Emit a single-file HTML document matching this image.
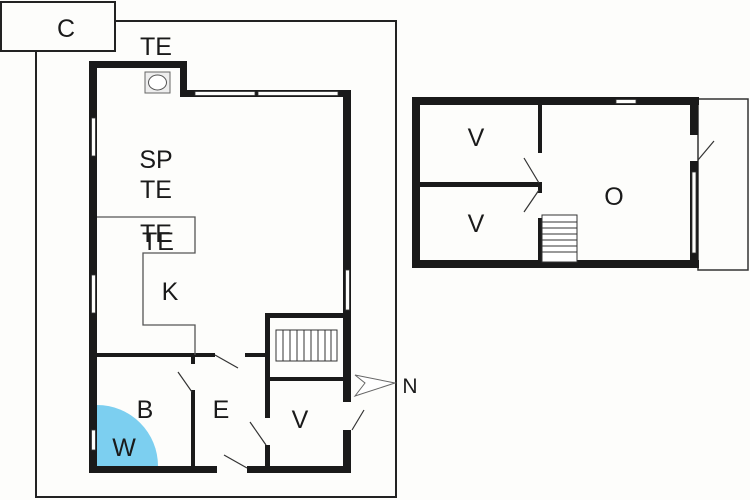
<!DOCTYPE html>
<html><head><style>
html,body{margin:0;padding:0;background:#fdfdfb;}
svg{display:block;}
text{font-family:"Liberation Sans",sans-serif;font-size:25px;fill:#1a1a1a;text-anchor:middle;}
</style></head><body>
<svg width="750" height="500" viewBox="0 0 750 500">
<rect width="750" height="500" fill="#fdfdfb"/>
<!-- plot -->
<polyline points="116,21 396,21 396,497 36,497 36,51" fill="none" stroke="#222" stroke-width="2"/>
<rect x="1" y="2" width="114" height="49" fill="#fdfdfb" stroke="#222" stroke-width="2"/>
<text x="66" y="37">C</text>
<text x="156" y="55">TE</text>
<!-- W quarter -->
<path d="M97,466 L97,405 A61,61 0 0 1 158,466 Z" fill="#7ccff0"/>
<!-- main walls -->
<g fill="#1a1a1a">
<rect x="89" y="61" width="98" height="7"/>
<rect x="89" y="61" width="8" height="412"/>
<rect x="180" y="61" width="7" height="36"/>
<rect x="180" y="90" width="171" height="7"/>
<rect x="343" y="90" width="8" height="383"/>
<rect x="89" y="466" width="128" height="7"/>
<rect x="247" y="466" width="104" height="7"/>
<rect x="97" y="353" width="118" height="4"/>
<rect x="245" y="353" width="25" height="4"/>
<rect x="191" y="353" width="4" height="11"/>
<rect x="191" y="390" width="4" height="80"/>
<rect x="265" y="313" width="5" height="105"/>
<rect x="265" y="445" width="5" height="25"/>
<rect x="265" y="313" width="84" height="5"/>
<rect x="268" y="377" width="78" height="4"/>
</g>
<g fill="#fdfdfb" stroke="#333" stroke-width="0.8">
<rect x="195" y="91.5" width="60" height="4"/>
<rect x="258" y="91.5" width="80" height="4"/>
<rect x="91.5" y="118" width="4" height="38"/>
<rect x="91.5" y="275" width="4" height="38"/>
<rect x="345.5" y="270" width="4" height="40"/>
<rect x="91.5" y="430" width="4" height="20"/>
</g>
<rect x="342" y="402" width="10" height="28" fill="#fdfdfb"/>
<rect x="145" y="72" width="25" height="21" fill="#eee" stroke="#666" stroke-width="1"/>
<ellipse cx="157.5" cy="82.5" rx="9" ry="7.5" fill="#fff" stroke="#555" stroke-width="1"/>
<!-- kitchen counter -->
<polyline points="97,217 195,217 195,253 143,253 143,325 195,325 195,355" fill="none" stroke="#555" stroke-width="1.3"/>
<!-- door swings -->
<g stroke="#333" stroke-width="1.2">
<line x1="215" y1="355" x2="238" y2="368"/>
<line x1="178" y1="372" x2="192" y2="392"/>
<line x1="250" y1="422" x2="266" y2="445"/>
<line x1="224" y1="455" x2="247" y2="468"/>
<line x1="352" y1="430" x2="364" y2="410"/>
</g>
<!-- stairs -->
<rect x="276" y="330" width="61" height="31" fill="#fff" stroke="#333" stroke-width="1"/>
<g stroke="#333" stroke-width="1">
<line x1="283" y1="330" x2="283" y2="361"/><line x1="290" y1="330" x2="290" y2="361"/>
<line x1="297" y1="330" x2="297" y2="361"/><line x1="304" y1="330" x2="304" y2="361"/>
<line x1="311" y1="330" x2="311" y2="361"/><line x1="318" y1="330" x2="318" y2="361"/>
<line x1="325" y1="330" x2="325" y2="361"/><line x1="331" y1="330" x2="331" y2="361"/>
</g>
<!-- N arrow -->
<polygon points="395,383 355,375 365,383 355,396" fill="#fff" stroke="#666" stroke-width="1"/>
<text x="410" y="393" style="font-size:21px">N</text>
<text x="156" y="168">SP</text>
<text x="156" y="198">TE</text>
<text x="156" y="242">TE</text>
<text x="158" y="250">TE</text>
<text x="170" y="300">K</text>
<text x="145" y="418">B</text>
<text x="124" y="456">W</text>
<text x="221" y="418">E</text>
<text x="300" y="428">V</text>
<!-- right building -->
<rect x="698" y="99" width="50" height="171" fill="#fdfdfb" stroke="#333" stroke-width="1.5"/>
<g fill="#1a1a1a">
<rect x="412" y="97" width="287" height="8"/>
<rect x="412" y="260" width="287" height="8"/>
<rect x="412" y="97" width="8" height="171"/>
<rect x="690" y="97" width="8" height="38"/>
<rect x="690" y="161" width="8" height="107"/>
<rect x="538" y="105" width="4" height="48"/>
<rect x="538" y="218" width="4" height="42"/>
<rect x="538" y="182" width="4" height="11"/>
<rect x="420" y="182" width="120" height="5"/>
</g>
<g fill="#fdfdfb" stroke="#333" stroke-width="0.8">
<rect x="616" y="99.5" width="20" height="4"/>
<rect x="692" y="172" width="4" height="81"/>
</g>
<g stroke="#333" stroke-width="1.2">
<line x1="524" y1="158" x2="539" y2="183"/>
<line x1="524" y1="212" x2="539" y2="190"/>
<line x1="698" y1="160" x2="714" y2="141"/>
</g>
<rect x="542" y="215" width="35" height="47" fill="#fff" stroke="#333" stroke-width="1"/>
<g stroke="#333" stroke-width="1">
<line x1="542" y1="222" x2="577" y2="222"/><line x1="542" y1="228" x2="577" y2="228"/>
<line x1="542" y1="234" x2="577" y2="234"/><line x1="542" y1="240" x2="577" y2="240"/>
<line x1="542" y1="246" x2="577" y2="246"/><line x1="542" y1="252" x2="577" y2="252"/>
</g>
<text x="476" y="146">V</text>
<text x="476" y="232">V</text>
<text x="614" y="205">O</text>
</svg>
</body></html>
